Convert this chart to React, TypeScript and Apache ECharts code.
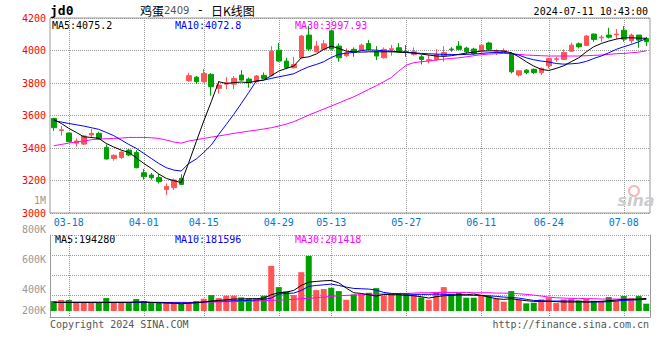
import React, { useEffect, useRef } from 'react';
import * as echarts from 'echarts';

const DATES = [
  '03-14','03-15','03-18','03-19','03-20','03-21','03-22','03-25','03-26','03-27','03-28','03-29',
  '04-01','04-02','04-03','04-08','04-09','04-10','04-11','04-12','04-15','04-16','04-17','04-18','04-19',
  '04-22','04-23','04-24','04-25','04-26','04-29','04-30',
  '05-06','05-07','05-08','05-09','05-10','05-13','05-14','05-15','05-16','05-17','05-20','05-21','05-22','05-23','05-24',
  '05-27','05-28','05-29','05-30','05-31',
  '06-03','06-04','06-05','06-06','06-07','06-11','06-12','06-13','06-14','06-17','06-18','06-19','06-20','06-21',
  '06-24','06-25','06-26','06-27','06-28',
  '07-01','07-02','07-03','07-04','07-05','07-08','07-09','07-10','07-11'
];

const OPEN = [
  3582,3508,3492,3430,3424,3480,3490,3404,3336,3342,3387,3373,3248,3234,3219,3144,3156,3213,3814,3836,
  3808,3853,3767,3793,3793,3849,3824,3808,3847,3847,4002,3935,3894,3955,4095,3992,4007,4121,4027,3968,
  4007,4002,4043,3992,3955,4004,4017,3994,3976,3961,3939,3945,3968,4009,4027,4015,4009,3998,4046,3996,
  3996,3982,3849,3879,3884,3863,3906,3945,3945,3996,4041,4031,4101,4078,4095,4097,4125,4060,4095,4074
];
const CLOSE = [
  3525,3512,3439,3443,3474,3490,3455,3332,3355,3375,3357,3279,3223,3217,3193,3164,3203,3176,3845,3808,
  3859,3777,3787,3801,3828,3818,3802,3843,3828,3996,3935,3894,3914,4089,4009,4027,4041,4009,3955,3986,
  3988,4033,4007,3966,4007,4011,3992,3992,3992,3945,3943,3976,3988,4005,4007,3992,3982,4033,4007,4000,
  4000,3869,3875,3865,3865,3890,3951,3949,3988,4033,4023,4089,4068,4082,4082,4101,4070,4095,4064,4054
];
const LOW = [
  3506,3476,3437,3408,3418,3463,3449,3330,3322,3332,3350,3275,3205,3205,3182,3111,3141,3174,3808,3793,
  3802,3722,3734,3763,3763,3814,3771,3804,3824,3838,3931,3884,3890,3951,3998,3988,4002,4005,3931,3961,
  3961,3998,4000,3941,3951,3968,3988,3961,3968,3914,3920,3937,3931,3992,4002,3982,3972,3996,4000,3972,
  3992,3859,3840,3855,3855,3849,3890,3931,3941,3992,4013,4027,4054,4054,4074,4070,4054,4043,4017,4027
];
const HIGH = [
  3586,3535,3494,3459,3480,3517,3500,3422,3361,3381,3393,3387,3271,3246,3240,3182,3213,3238,3863,3843,
  3886,3861,3812,3836,3843,3879,3834,3849,3865,4027,4046,3955,3961,4095,4152,4060,4064,4130,4043,4013,
  4019,4043,4064,4027,4019,4035,4045,4033,4019,3972,3972,4009,4027,4021,4058,4023,4017,4037,4054,4007,
  4013,3988,3877,3886,3890,3896,3955,3961,4007,4048,4050,4095,4105,4095,4140,4132,4150,4105,4095,4084
];

const MA5 = [
  3576,3551,3521,3496,3469,3465,3459,3428,3406,3387,3373,3340,3305,3275,3240,3213,3199,3187,3310,3439,
  3566,3685,3808,3797,3802,3806,3802,3812,3818,3845,3873,3890,3904,3955,3961,3978,4007,4027,4013,3996,
  3992,3990,3992,3992,3992,3992,3990,3988,3984,3978,3972,3966,3964,3968,3976,3984,3990,3996,3998,3998,
  3996,3986,3961,3931,3904,3884,3877,3890,3906,3931,3955,3992,4023,4043,4058,4070,4078,4078,4076,4075.2
];
const MA10 = [
  3568,3560,3551,3543,3535,3525,3515,3496,3476,3449,3422,3398,3367,3336,3305,3279,3264,3258,3305,3332,
  3373,3418,3484,3545,3607,3674,3742,3812,3818,3828,3838,3847,3857,3880,3900,3914,3931,3957,3976,3984,
  3988,4000,4004,4002,3998,3996,3992,3988,3986,3982,3980,3978,3976,3976,3974,3976,3978,3982,3986,3988,
  3988,3982,3972,3955,3943,3935,3929,3920,3916,3918,3922,3933,3951,3966,3986,4007,4023,4037,4054,4072.8
];
const MA30 = [
  3414,3422,3430,3437,3443,3451,3455,3457,3459,3461,3465,3465,3465,3463,3459,3449,3437,3430,3443,3451,
  3459,3467,3474,3482,3490,3496,3504,3510,3517,3525,3535,3547,3562,3582,3603,3621,3640,3658,3677,3697,
  3715,3738,3761,3783,3808,3834,3873,3910,3925,3931,3935,3941,3947,3951,3955,3961,3968,3974,3978,3980,
  3982,3980,3976,3972,3970,3968,3966,3966,3966,3966,3966,3968,3970,3972,3976,3980,3982,3986,3990,3997.93
];

const VOLUME = [
  154000,169000,169000,133000,133000,133000,133000,200000,133000,133000,
  123000,185000,154000,123000,123000,139000,139000,108000,118000,154000,
  190000,246000,200000,236000,236000,210000,195000,200000,236000,698000,
  369000,303000,246000,600000,852000,323000,339000,359000,308000,174000,
  257000,257000,282000,354000,241000,277000,277000,277000,251000,210000,
  174000,292000,369000,267000,282000,205000,205000,251000,231000,190000,
  144000,308000,174000,118000,128000,180000,210000,123000,180000,190000,
  164000,190000,159000,159000,215000,159000,231000,200000,231000,113000
];
const VOL_MA5 = [
  133000,133000,133000,133000,133000,133000,133000,133000,133000,133000,
  133000,139000,139000,133000,128000,123000,118000,113000,118000,128000,
  139000,154000,164000,174000,185000,185000,190000,190000,200000,251000,
  282000,292000,318000,395000,446000,457000,467000,472000,436000,354000,
  282000,272000,251000,231000,257000,251000,251000,241000,236000,221000,
  200000,221000,236000,241000,251000,251000,262000,241000,215000,190000,
  180000,190000,174000,159000,149000,149000,149000,144000,139000,139000,
  139000,139000,144000,149000,159000,169000,180000,180000,185000,194280
];
const VOL_MA10 = [
  133000,133000,133000,133000,133000,133000,133000,133000,133000,133000,
  133000,133000,133000,133000,133000,130000,128000,128000,128000,130000,
  139000,149000,154000,154000,159000,159000,164000,169000,180000,200000,
  262000,272000,277000,318000,380000,395000,405000,416000,395000,369000,
  349000,344000,339000,323000,287000,272000,267000,262000,257000,257000,
  257000,262000,257000,251000,246000,246000,241000,241000,236000,226000,
  215000,210000,200000,180000,164000,159000,154000,154000,154000,154000,
  149000,139000,139000,139000,144000,154000,164000,169000,174000,181596
];
const VOL_MA30 = [
  136000,136000,136000,136000,136000,135000,135000,135000,135000,135000,
  135000,135000,134000,133000,133000,133000,133000,133000,133000,133000,
  133000,139000,139000,144000,144000,149000,149000,154000,159000,164000,
  169000,174000,180000,190000,195000,205000,215000,226000,236000,241000,
  246000,251000,257000,262000,262000,267000,272000,272000,277000,282000,
  282000,287000,287000,287000,287000,287000,282000,282000,282000,277000,
  277000,272000,267000,257000,246000,231000,215000,205000,200000,195000,
  195000,190000,190000,185000,185000,185000,185000,180000,180000,185000
];

const DATE_TICKS = ['03-18','04-01','04-15','04-29','05-13','05-27','06-11','06-24','07-08'];
const VOL_LABEL_SLOTS = [0, 2, 5, 8];
const VOL_LABELS = ['200K', '400K', '600K', '800K'];
const PRICE_LEGEND = ['MA5:4075.2', 'MA10:4072.8', 'MA30:3997.93'];
const VOLUME_LEGEND = ['MA5:194280', 'MA10:181596', 'MA30:201418'];

const MONO = "'DejaVu Sans Mono', monospace";
const RED = '#ff5555';
const GREEN = '#00a000';
const GRIDLINE = { color: '#999', type: [1, 1] as any, width: 1 };
const BORDER = '#999';
const MA_COLORS = ['#000000', '#0000ff', '#ff00ff'];

const showDate = (_i: number, v: string) => DATE_TICKS.includes(v);

export default function App() {
  const ref = useRef<HTMLDivElement>(null);
  useEffect(() => {
    if (!ref.current) return;
    const chart = echarts.init(ref.current, undefined, { renderer: 'svg' });
    const lineSeries = (data: number[], color: string, xi: number, yi: number) => ({
      type: 'line', data, xAxisIndex: xi, yAxisIndex: yi, symbol: 'none', showSymbol: false,
      lineStyle: { width: 1, color }, itemStyle: { color }, silent: true, z: 3,
    });
    const hiddenCat = (gi: number) => ({
      type: 'category', gridIndex: gi, data: DATES, boundaryGap: true, show: false,
    });
    const option: any = {
      animation: false,
      backgroundColor: '#ffffff',
      grid: [
        { left: 50, top: 18, width: 600, height: 195, show: true, borderColor: BORDER, borderWidth: 1, backgroundColor: 'transparent' },
        { left: 50, top: 235, width: 600, height: 76 },
        { left: 50, top: 235, width: 600, height: 82 },
        { left: 50, top: 235, width: 600, height: 60 },
        { left: 50, top: 229, width: 600, height: 81 },
      ],
      xAxis: [
        {
          type: 'category', gridIndex: 0, data: DATES, boundaryGap: true,
          axisLine: { show: false }, axisTick: { show: false },
          axisLabel: { interval: showDate, color: '#0078d0', fontFamily: MONO, fontSize: 10, margin: 4 },
          splitLine: { show: true, interval: showDate, alignWithLabel: true, lineStyle: GRIDLINE },
        },
        hiddenCat(1),
        {
          type: 'category', gridIndex: 2, data: DATES, boundaryGap: true, position: 'top',
          axisLine: { show: true, lineStyle: { color: BORDER, width: 1 } }, axisTick: { show: false },
          axisLabel: { show: false },
          splitLine: { show: true, interval: showDate, alignWithLabel: true, lineStyle: GRIDLINE },
        },
        { type: 'value', gridIndex: 3, min: 0, max: 1, show: false },
        { type: 'value', gridIndex: 4, min: 0, max: 1, show: false },
      ],
      yAxis: [
        {
          type: 'value', gridIndex: 0, min: 3000, max: 4200, interval: 200,
          axisLine: { show: false }, axisTick: { show: false },
          axisLabel: {
            color: '#ff0000', fontFamily: MONO, fontSize: 10, margin: 4, padding: [0, 0, 4, 0],
            formatter: (v: number) => String(v),
          },
          splitLine: { show: true, lineStyle: GRIDLINE },
        },
        { type: 'value', gridIndex: 1, min: 0, max: 1175000, show: false },
        {
          type: 'value', gridIndex: 2, min: 0, max: 1, position: 'left',
          axisLine: { show: true, lineStyle: { color: BORDER, width: 1 } },
          axisTick: { show: false }, axisLabel: { show: false }, splitLine: { show: false },
        },
        {
          type: 'value', gridIndex: 2, min: 0, max: 1, position: 'right',
          axisLine: { show: true, lineStyle: { color: BORDER, width: 1 } },
          axisTick: { show: false }, axisLabel: { show: false }, splitLine: { show: false },
        },
        {
          type: 'value', gridIndex: 3, min: 0, max: 3, interval: 1,
          axisLine: { show: false }, axisTick: { show: false }, axisLabel: { show: false },
          splitLine: { show: true, lineStyle: GRIDLINE },
        },
        {
          type: 'value', gridIndex: 4, min: 0, max: 8, interval: 1,
          axisLine: { show: false }, axisTick: { show: false }, splitLine: { show: false },
          axisLabel: {
            color: '#999', fontFamily: MONO, fontSize: 10, margin: 4,
            formatter: (v: number) => {
              const i = VOL_LABEL_SLOTS.indexOf(v);
              return i >= 0 ? VOL_LABELS[i] : '';
            },
          },
        },
      ],
      series: [
        {
          type: 'candlestick', xAxisIndex: 0, yAxisIndex: 0, barWidth: 5,
          data: DATES.map((_, i) => [OPEN[i], CLOSE[i], LOW[i], HIGH[i]]),
          itemStyle: { color: RED, color0: GREEN, borderColor: RED, borderColor0: GREEN, borderWidth: 1 },
          z: 2,
        },
        lineSeries(MA30, MA_COLORS[2], 0, 0),
        lineSeries(MA10, MA_COLORS[1], 0, 0),
        lineSeries(MA5, MA_COLORS[0], 0, 0),
        {
          type: 'bar', xAxisIndex: 1, yAxisIndex: 1, barWidth: 6,
          data: VOLUME.map((v, i) => ({ value: v, itemStyle: { color: CLOSE[i] >= OPEN[i] ? RED : GREEN } })),
          z: 2,
        },
        lineSeries(VOL_MA30, MA_COLORS[2], 1, 1),
        lineSeries(VOL_MA10, MA_COLORS[1], 1, 1),
        lineSeries(VOL_MA5, MA_COLORS[0], 1, 1),
      ],
      graphic: [
        { type: 'text', x: 50, y: 10, style: { text: 'jd0', font: `bold 13px ${MONO}`, fill: '#000', textVerticalAlign: 'middle' } },
        {
          type: 'text', x: 140, y: 10,
          style: {
            text: '{a|鸡蛋}{b|2409}{c| - }{a|日K线图}', textVerticalAlign: 'middle',
            rich: {
              a: { fontFamily: "'Noto Sans CJK SC'", fontSize: 12, fill: '#000', color: '#000' },
              b: { fontFamily: "'DejaVu Sans'", fontSize: 10, fill: '#555', color: '#555' },
              c: { fontFamily: MONO, fontSize: 12, fill: '#000', color: '#000' },
            },
          },
        },
        { type: 'text', x: 648, y: 11, style: { text: '2024-07-11 10:43:00', font: `10px ${MONO}`, fill: '#000', textAlign: 'right', textVerticalAlign: 'middle' } },
        { type: 'text', x: 52, y: 25, style: { text: PRICE_LEGEND[0], font: `10px ${MONO}`, fill: MA_COLORS[0], textVerticalAlign: 'middle' } },
        { type: 'text', x: 175, y: 25, style: { text: PRICE_LEGEND[1], font: `10px ${MONO}`, fill: MA_COLORS[1], textVerticalAlign: 'middle' } },
        { type: 'text', x: 295, y: 25, style: { text: PRICE_LEGEND[2], font: `10px ${MONO}`, fill: MA_COLORS[2], textVerticalAlign: 'middle' } },
        { type: 'text', x: 55, y: 239, style: { text: VOLUME_LEGEND[0], font: `10px ${MONO}`, fill: MA_COLORS[0], textVerticalAlign: 'middle' } },
        { type: 'text', x: 175, y: 239, style: { text: VOLUME_LEGEND[1], font: `10px ${MONO}`, fill: MA_COLORS[1], textVerticalAlign: 'middle' } },
        { type: 'text', x: 295, y: 239, style: { text: VOLUME_LEGEND[2], font: `10px ${MONO}`, fill: MA_COLORS[2], textVerticalAlign: 'middle' } },
        { type: 'text', x: 46, y: 200, style: { text: '1M', font: `10px ${MONO}`, fill: '#999', textAlign: 'right', textVerticalAlign: 'middle' } },
        { type: 'text', x: 50, y: 324, style: { text: 'Copyright 2024 SINA.COM', font: `10px ${MONO}`, fill: '#555', textVerticalAlign: 'middle' } },
        { type: 'text', x: 649, y: 324, style: { text: 'http://finance.sina.com.cn', font: `10px ${MONO}`, fill: '#555', textAlign: 'right', textVerticalAlign: 'middle' } },
        { type: 'circle', shape: { cx: 634, cy: 191, r: 5 }, style: { fill: 'none', stroke: '#f5b8b8', lineWidth: 2 }, z: 1 },
        { type: 'text', x: 636, y: 200, style: { text: 'sina', font: "italic bold 16px 'DejaVu Sans'", fill: '#cccccc', textAlign: 'center', textVerticalAlign: 'middle' }, z: 1 },
      ],
    };
    chart.setOption(option);
    return () => chart.dispose();
  }, []);
  return <div ref={ref} style={{ position: 'fixed', left: 0, top: 0, width: 660, height: 360 }} />;
}
